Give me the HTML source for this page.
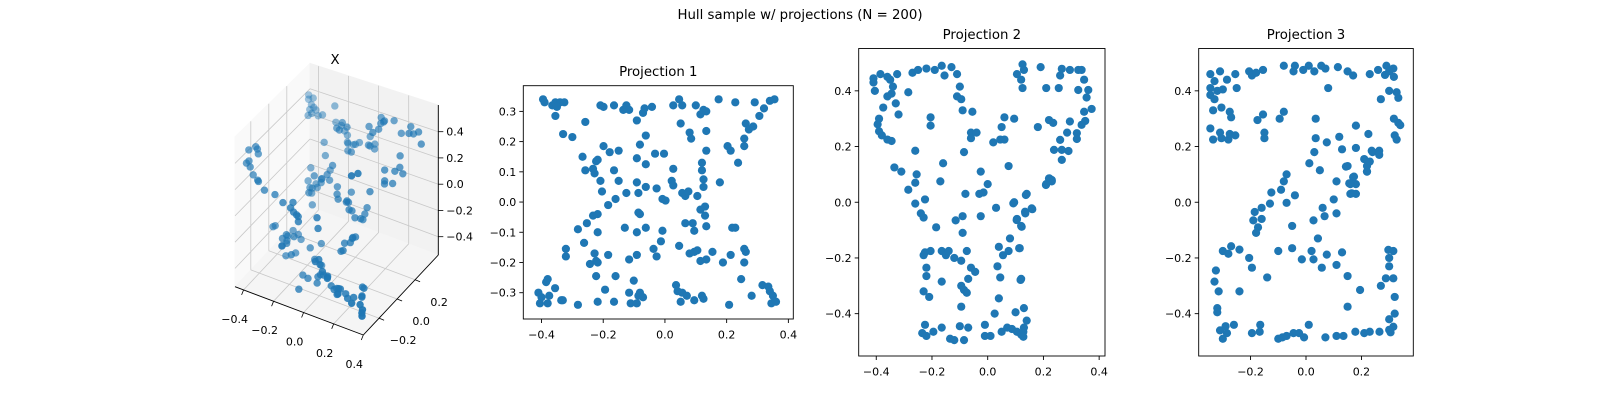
<!DOCTYPE html>
<html><head><meta charset="utf-8"><style>
html,body{margin:0;padding:0;background:#fff;}
svg{display:block;font-family:"DejaVu Sans","Liberation Sans",sans-serif;}
</style></head><body>
<svg id="fig" width="1600" height="400" viewBox="0 0 1600 400" xmlns="http://www.w3.org/2000/svg">
<rect x="0" y="0" width="1600" height="400" fill="#fff"/>
<text x="800" y="19" font-size="13.3" text-anchor="middle">Hull sample w/ projections (N = 200)</text>
<g id="g3d"></g>
<g id="gp1"></g>
<g id="gp2"></g>
<g id="gp3"></g>
</svg>
<script>
// ---- Projection 1 data ----
const p1x = [-0.395,-0.39,-0.365,-0.355,-0.34,-0.326,-0.35,-0.355,-0.33,-0.30,-0.258,-0.209,-0.199,-0.165,-0.135,-0.125,-0.116,-0.091,-0.071,-0.066,-0.042,-0.062,-0.081,-0.091,-0.062,-0.032,-0.003,0.027,0.046,0.056,0.051,0.08,0.085,0.10,0.115,0.125,0.134,0.134,0.134,0.174,0.228,0.291,0.306,0.321,0.34,0.355,0.262,0.272,0.286,0.257,0.257,0.203,0.213,0.237,0.178,-0.267,-0.258,-0.233,-0.223,-0.218,-0.228,-0.209,-0.199,-0.179,-0.15,-0.165,-0.15,-0.204,-0.184,-0.16,-0.125,-0.091,-0.086,-0.062,-0.027,-0.008,0.002,0.027,0.022,0.027,0.056,0.066,0.076,0.105,0.12,0.12,0.125,0.125,0.13,0.115,0.13,0.134,0.09,0.095,0.066,-0.282,-0.253,-0.233,-0.218,-0.218,-0.262,-0.321,-0.321,-0.228,-0.223,-0.243,-0.218,-0.184,-0.223,-0.194,-0.16,-0.13,-0.091,-0.086,-0.081,-0.062,-0.037,-0.027,-0.013,-0.008,-0.116,-0.091,-0.101,0.046,0.08,0.095,0.105,0.115,0.134,0.154,0.188,0.213,0.218,0.228,0.257,0.262,0.257,0.247,-0.385,-0.38,-0.356,-0.41,-0.40,-0.405,-0.38,-0.375,-0.336,-0.331,-0.282,-0.218,-0.165,-0.116,-0.111,-0.091,-0.086,-0.081,-0.071,0.036,0.041,0.051,0.056,0.071,0.095,0.12,0.125,0.208,0.281,0.316,0.335,0.34,0.35,0.345,0.36];
const p1y = [0.34,0.33,0.32,0.33,0.33,0.33,0.315,0.285,0.225,0.215,0.265,0.32,0.315,0.32,0.305,0.32,0.305,0.27,0.295,0.31,0.315,0.22,0.19,0.145,0.125,0.16,0.16,0.32,0.34,0.32,0.26,0.23,0.21,0.32,0.29,0.305,0.30,0.235,0.17,0.34,0.33,0.33,0.285,0.31,0.335,0.34,0.26,0.24,0.25,0.21,0.185,0.185,0.17,0.13,0.065,0.15,0.105,0.11,0.135,0.14,0.095,0.07,0.185,0.165,0.17,0.105,0.07,0.035,-0.01,0.01,0.03,0.065,0.03,0.05,0.045,0.01,0.005,0.11,0.07,0.055,0.03,0.02,0.035,0.02,0.13,0.105,0.075,0.05,-0.015,-0.025,-0.045,-0.08,-0.07,-0.095,-0.07,-0.09,-0.07,-0.045,-0.04,-0.10,-0.135,-0.155,-0.18,-0.17,-0.195,-0.205,-0.20,-0.175,-0.245,-0.29,-0.245,-0.085,-0.10,-0.035,-0.04,-0.085,-0.155,-0.18,-0.13,-0.095,-0.19,-0.175,-0.26,-0.145,-0.17,-0.165,-0.16,-0.195,-0.19,-0.165,-0.20,-0.175,-0.085,-0.085,-0.155,-0.165,-0.20,-0.255,-0.265,-0.255,-0.285,-0.30,-0.315,-0.335,-0.335,-0.31,-0.325,-0.325,-0.34,-0.33,-0.33,-0.30,-0.335,-0.335,-0.31,-0.30,-0.315,-0.275,-0.295,-0.33,-0.30,-0.31,-0.325,-0.31,-0.32,-0.34,-0.31,-0.275,-0.28,-0.295,-0.31,-0.335,-0.33];
const p1XTicks = [-0.4,-0.2,0.0,0.2,0.4];
const p1YTicks = [-0.3,-0.2,-0.1,0.0,0.1,0.2,0.3];

// ---- Projection 2 data ----
const p2x = [-0.41,-0.41,-0.405,-0.385,-0.36,-0.35,-0.325,-0.34,-0.36,-0.345,-0.33,-0.375,-0.32,-0.39,-0.395,-0.39,-0.38,-0.36,-0.345,-0.285,-0.27,-0.25,-0.22,-0.19,-0.165,-0.155,-0.13,-0.11,-0.10,-0.11,-0.095,-0.09,-0.055,-0.205,-0.205,-0.06,-0.04,-0.06,-0.085,-0.26,-0.335,-0.31,-0.255,-0.26,-0.285,-0.26,-0.225,-0.24,-0.23,-0.185,-0.16,-0.17,-0.08,-0.115,-0.09,-0.09,
0.125,0.13,0.105,0.12,0.125,0.19,0.21,0.255,0.295,0.285,0.22,0.235,0.18,0.095,0.06,0.05,0.02,0.045,0.06,0.075,-0.025,0.0,-0.03,-0.015,0.22,0.21,0.23,0.14,0.095,0.03,-0.025,0.105,0.12,0.135,0.16,0.08,0.04,0.055,0.075,0.035,0.115,0.045,0.12,
-0.23,-0.225,-0.205,-0.22,-0.22,-0.23,-0.21,-0.165,-0.15,-0.14,-0.12,-0.095,-0.075,-0.06,-0.045,-0.07,-0.165,-0.095,-0.085,-0.075,-0.095,-0.225,-0.235,-0.22,-0.195,-0.165,-0.135,-0.12,-0.10,-0.085,-0.07,-0.01,-0.01,0.01,0.025,0.04,0.05,0.07,0.087,0.105,0.12,0.13,0.14,0.13,0.10,
0.266,0.295,0.325,0.337,0.26,0.346,0.325,0.361,0.355,0.373,0.346,0.35,0.337,0.32,0.32,0.26,0.238,0.266,0.29,0.266,0.221,0.209,0.23,0.137,0.092,0.158,0.134,0.104,0.122,0.113,0.118,0.128,0.128];
const p2y = [0.445,0.43,0.40,0.46,0.45,0.44,0.46,0.415,0.38,0.39,0.355,0.34,0.315,0.30,0.28,0.255,0.24,0.225,0.22,0.395,0.465,0.475,0.48,0.475,0.49,0.455,0.485,0.46,0.415,0.38,0.37,0.33,0.325,0.305,0.275,0.25,0.25,0.23,0.18,0.185,0.125,0.11,0.10,0.07,0.045,-0.005,0.01,-0.04,-0.055,-0.09,0.14,0.075,0.03,-0.065,-0.05,-0.11,
0.495,0.475,0.46,0.44,0.41,0.485,0.41,0.41,0.29,0.25,0.295,0.285,0.27,0.30,0.305,0.27,0.215,0.225,0.225,0.13,0.11,0.065,0.03,0.035,0.085,0.065,0.075,0.03,0.0,-0.02,-0.05,-0.06,-0.085,-0.04,-0.025,-0.13,-0.16,-0.19,-0.175,-0.23,-0.165,-0.27,-0.275,
-0.19,-0.18,-0.175,-0.235,-0.265,-0.32,-0.34,-0.175,-0.19,-0.175,-0.20,-0.21,-0.175,-0.235,-0.25,-0.275,-0.285,-0.30,-0.315,-0.325,-0.375,-0.44,-0.47,-0.48,-0.465,-0.45,-0.49,-0.495,-0.445,-0.495,-0.45,-0.44,-0.48,-0.48,-0.40,-0.345,-0.465,-0.45,-0.455,-0.465,-0.475,-0.45,-0.425,-0.38,-0.395,
0.479,0.475,0.475,0.475,0.455,0.44,0.403,0.403,0.376,0.335,0.325,0.292,0.278,0.248,0.227,0.224,0.188,0.188,0.184,0.152,0.086,0.062,0.08,0.026,-0.004,-0.022,-0.034,-0.064,-0.088,-0.165,-0.279,-0.465,-0.483];
const p2XTicks = [-0.4,-0.2,0.0,0.2,0.4];
const p2YTicks = [-0.4,-0.2,0.0,0.2,0.4];

// ---- Projection 3 data ----
const p3x = [-0.345,-0.33,-0.345,-0.345,-0.33,-0.335,-0.31,-0.32,-0.30,-0.285,-0.25,-0.255,-0.305,-0.275,-0.27,-0.345,-0.335,-0.31,-0.305,-0.28,-0.275,-0.255,-0.205,-0.195,-0.18,-0.155,-0.175,-0.155,-0.15,-0.15,-0.095,-0.08,
-0.08,-0.04,-0.045,-0.01,0.01,0.03,0.055,0.07,0.08,0.115,0.15,0.17,0.23,0.27,
0.035,0.035,0.03,0.075,0.012,0.05,0.12,0.13,0.15,0.11,0.10,0.11,0.06,0.067,0.027,0.043,0.18,0.18,0.17,0.18,0.16,0.16,0.18,0.21,0.22,0.22,0.24,0.225,-0.07,-0.08,-0.09,-0.125,-0.13,-0.07,-0.04,-0.16,-0.185,-0.19,-0.16,-0.173,-0.18,-0.05,
-0.30,-0.28,-0.27,-0.24,-0.205,-0.195,-0.14,-0.24,-0.325,-0.33,-0.315,-0.32,-0.32,-0.10,-0.05,-0.015,0.02,0.027,0.057,0.075,0.11,0.13,0.15,0.195,0.15,0.27,
-0.31,-0.30,-0.29,-0.285,-0.26,-0.195,-0.165,-0.167,-0.10,-0.085,-0.07,-0.045,-0.025,-0.007,0.01,0.07,0.11,0.135,0.178,0.21,0.23,0.265,
0.26,0.29,0.315,0.285,0.317,0.30,0.30,0.327,0.333,0.317,0.333,0.34,0.32,0.327,0.237,0.264,0.264,0.23,0.22,0.173,0.156,0.165,0.144,0.297,0.315,0.30,0.30,0.288,0.315,0.32,0.32,0.30,0.315,0.30,0.305];
const p3y = [0.46,0.435,0.41,0.385,0.37,0.33,0.47,0.40,0.405,0.44,0.41,0.46,0.34,0.325,0.305,0.265,0.225,0.25,0.23,0.225,0.245,0.24,0.47,0.455,0.465,0.475,0.295,0.315,0.25,0.23,0.30,0.325,
0.49,0.49,0.47,0.475,0.49,0.47,0.49,0.48,0.41,0.485,0.47,0.455,0.46,0.37,
0.30,0.23,0.18,0.215,0.14,0.115,0.235,0.19,0.13,0.075,0.01,-0.04,-0.02,-0.05,-0.065,-0.13,0.275,0.195,0.09,0.065,0.065,0.03,0.03,0.155,0.13,0.11,0.18,0.245,0.10,0.075,0.045,0.035,-0.005,-0.002,0.025,-0.02,-0.035,-0.065,-0.06,-0.09,-0.11,-0.085,
-0.175,-0.185,-0.158,-0.17,-0.20,-0.235,-0.27,-0.32,-0.245,-0.285,-0.32,-0.38,-0.395,-0.175,-0.165,-0.205,-0.175,-0.205,-0.235,-0.188,-0.225,-0.18,-0.265,-0.315,-0.375,-0.30,
-0.46,-0.49,-0.445,-0.47,-0.44,-0.47,-0.44,-0.465,-0.49,-0.485,-0.48,-0.47,-0.47,-0.485,-0.44,-0.485,-0.48,-0.48,-0.465,-0.47,-0.465,-0.465,
0.475,0.49,0.48,0.457,0.45,0.47,0.40,0.395,0.375,0.30,0.285,0.277,0.24,0.225,0.185,0.185,0.17,0.146,0.11,0.092,0.068,0.032,0.128,-0.171,-0.175,-0.20,-0.23,-0.273,-0.273,-0.34,-0.40,-0.42,-0.447,-0.458,-0.467];
const p3XTicks = [-0.2,0.0,0.2];
const p3YTicks = [-0.4,-0.2,0.0,0.2,0.4];

// ---- 3D panel data (x, y from projection 1; z from projection 3 vertical) ----
const x3 = p1x;
const y3 = p1y;
const z3 = p3y;
const x3Ticks = [-0.4,-0.2,0.0,0.2,0.4];
const y3Ticks = [-0.2,0.0,0.2];
const z3Ticks = [-0.4,-0.2,0.0,0.2,0.4];

const NS = "http://www.w3.org/2000/svg";
const BLUE = "#1f77b4";
function mk(tag, attrs, parent) {
  const e = document.createElementNS(NS, tag);
  for (const k in attrs) e.setAttribute(k, attrs[k]);
  parent.appendChild(e);
  return e;
}
function fmt(v) {
  const s = Math.abs(v).toFixed(1);
  return (v < -1e-9 ? "\u2212" : "") + s;
}

function panel(gid, box, xlim, ylim, xticks, yticks, xs, ys, title, titleY) {
  const g = document.getElementById(gid);
  const sx = v => box.x0 + (v - xlim[0]) / (xlim[1] - xlim[0]) * (box.x1 - box.x0);
  const sy = v => box.y1 - (v - ylim[0]) / (ylim[1] - ylim[0]) * (box.y1 - box.y0);
  const pts = mk("g", {}, g);
  
  
  const n = Math.min(xs.length, ys.length);
  for (let i = 0; i < n; i++) {
    const c = mk("circle", {cx: sx(xs[i]).toFixed(2), cy: sy(ys[i]).toFixed(2), r: 4.1, fill: BLUE}, pts);
    
    
  }
  const frame = mk("rect", {x: box.x0, y: box.y0, width: box.x1 - box.x0, height: box.y1 - box.y0, fill: "none", stroke: "#000", "stroke-width": 0.9}, g);
  
  
  for (const t of xticks) {
    const x = sx(t);
    const tl = mk("line", {x1: x, x2: x, y1: box.y1, y2: box.y1 + 4, stroke: "#000", "stroke-width": 0.9}, g);
    
    
    const tx = mk("text", {x: x, y: box.y1 + 19.5, "font-size": 11, "text-anchor": "middle"}, g);
    tx.textContent = fmt(t);
    
    
  }
  for (const t of yticks) {
    const y = sy(t);
    const tl = mk("line", {x1: box.x0 - 4, x2: box.x0, y1: y, y2: y, stroke: "#000", "stroke-width": 0.9}, g);
    
    
    const tx = mk("text", {x: box.x0 - 7, y: y + 4, "font-size": 11, "text-anchor": "end"}, g);
    tx.textContent = fmt(t);
    
    
  }
  const tt = mk("text", {x: (box.x0 + box.x1) / 2, y: titleY, "font-size": 13.3, "text-anchor": "middle"}, g);
  tt.textContent = title;
  
  
}

panel("gp1", {x0: 523.3, x1: 793.3, y0: 85.7, y1: 319}, [-0.459, 0.416], [-0.387, 0.385], p1XTicks, p1YTicks, p1x, p1y, "Projection 1", 76);
panel("gp2", {x0: 858.7, x1: 1105, y0: 48.5, y1: 356}, [-0.463, 0.421], [-0.552, 0.552], p2XTicks, p2YTicks, p2x, p2y, "Projection 2", 39);
panel("gp3", {x0: 1198.7, x1: 1413.3, y0: 48.5, y1: 356}, [-0.387, 0.387], [-0.552, 0.552], p3XTicks, p3YTicks, p3x, p3y, "Projection 3", 39);

// ---- 3D panel ----
(function () {
  const g = document.getElementById("g3d");
  const U = x => 0.535 + 1.17 * x;
  const V = y => 0.45 + 1.2 * y;
  const W = z => 0.472 + 0.875 * z;
  function S(u, v, w) {
    const H = 150 - 6.6 * v + 6.6 * u;
    return [235 + 128.3 * u + 75 * v, 286.7 + 48.3 * u - 80 * v - H * w];
  }
  function poly(pts, fill, name) {
    const p = mk("polygon", {points: pts.map(q => q[0].toFixed(1) + "," + q[1].toFixed(1)).join(" "), fill: fill, stroke: fill, "stroke-width": 0.8}, g);
    
    
  }
  poly([S(0,0,0), S(0,1,0), S(0,1,1), S(0,0,1)], "#f9f9f9", "left-pane");
  poly([S(0,1,0), S(1,1,0), S(1,1,1), S(0,1,1)], "#f2f2f2", "back-pane");
  poly([S(0,0,0), S(1,0,0), S(1,1,0), S(0,1,0)], "#f5f5f5", "floor-pane");
  function line(a, b, col, wd, name) {
    const l = mk("line", {x1: a[0].toFixed(1), y1: a[1].toFixed(1), x2: b[0].toFixed(1), y2: b[1].toFixed(1), stroke: col, "stroke-width": wd}, g);
    
    
  }
  const GC = "#c8c8c8";
  for (const t of y3Ticks) { const v = V(t); line(S(0,v,0), S(0,v,1), GC, 0.8, "grid-line"); line(S(0,v,0), S(1,v,0), GC, 0.8, "grid-line"); }
  for (const t of z3Ticks) { const w = W(t); line(S(0,0,w), S(0,1,w), GC, 0.8, "grid-line"); line(S(0,1,w), S(1,1,w), GC, 0.8, "grid-line"); }
  for (const t of x3Ticks) { const u = Math.min(U(t), 1); line(S(u,1,0), S(u,1,1), GC, 0.8, "grid-line"); line(S(u,0,0), S(u,1,0), GC, 0.8, "grid-line"); }
  // axis lines
  line(S(0,0,0), S(1,0,0), "#000", 0.9, "x-axis-line");
  line(S(1,0,0), S(1,1,0), "#000", 0.9, "y-axis-line");
  line(S(1,1,0), S(1,1,1), "#000", 0.9, "z-axis-line");
  // points, sorted back to front
  const idx = [];
  const n = Math.min(x3.length, y3.length, z3.length);
  for (let i = 0; i < n; i++) idx.push(i);
  const depth = i => (U(x3[i]) + 1 - V(y3[i])) / 2;
  idx.sort((a, b) => depth(a) - depth(b));
  const pg = mk("g", {}, g);
  
  
  for (const i of idx) {
    const s = S(U(x3[i]), V(y3[i]), W(z3[i]));
    const c = mk("circle", {cx: s[0].toFixed(2), cy: s[1].toFixed(2), r: 3.7, fill: BLUE, "fill-opacity": (0.35 + 0.65 * depth(i)).toFixed(2)}, pg);
    
    
  }
  // tick labels
  for (const t of x3Ticks) {
    const u = Math.min(U(t), 1.0);
    const p = S(u, 0, 0);
    line(p, [p[0] - 2, p[1] + 5], "#000", 0.8, "x-tick");
    const tx = mk("text", {x: (p[0] - 9).toFixed(1), y: (p[1] + 33).toFixed(1), "font-size": 11, "text-anchor": "middle"}, g);
    tx.textContent = fmt(t);
    
    
  }
  for (const t of y3Ticks) {
    const p = S(1, V(t), 0);
    line(p, [p[0] + 5, p[1] + 2], "#000", 0.8, "y-tick");
    const tx = mk("text", {x: (p[0] + 24).toFixed(1), y: (p[1] + 26).toFixed(1), "font-size": 11, "text-anchor": "middle"}, g);
    tx.textContent = fmt(t);
    
    
  }
  for (const t of z3Ticks) {
    const p = S(1, 1, W(t));
    line(p, [p[0] + 5, p[1]], "#000", 0.8, "z-tick");
    const tx = mk("text", {x: (p[0] + 8).toFixed(1), y: (p[1] + 4).toFixed(1), "font-size": 11, "text-anchor": "start"}, g);
    tx.textContent = fmt(t);
    
    
  }
  const tt = mk("text", {x: 335, y: 64, "font-size": 13.3, "text-anchor": "middle"}, g);
  tt.textContent = "X";
  
  
})();
</script>
</body></html>
